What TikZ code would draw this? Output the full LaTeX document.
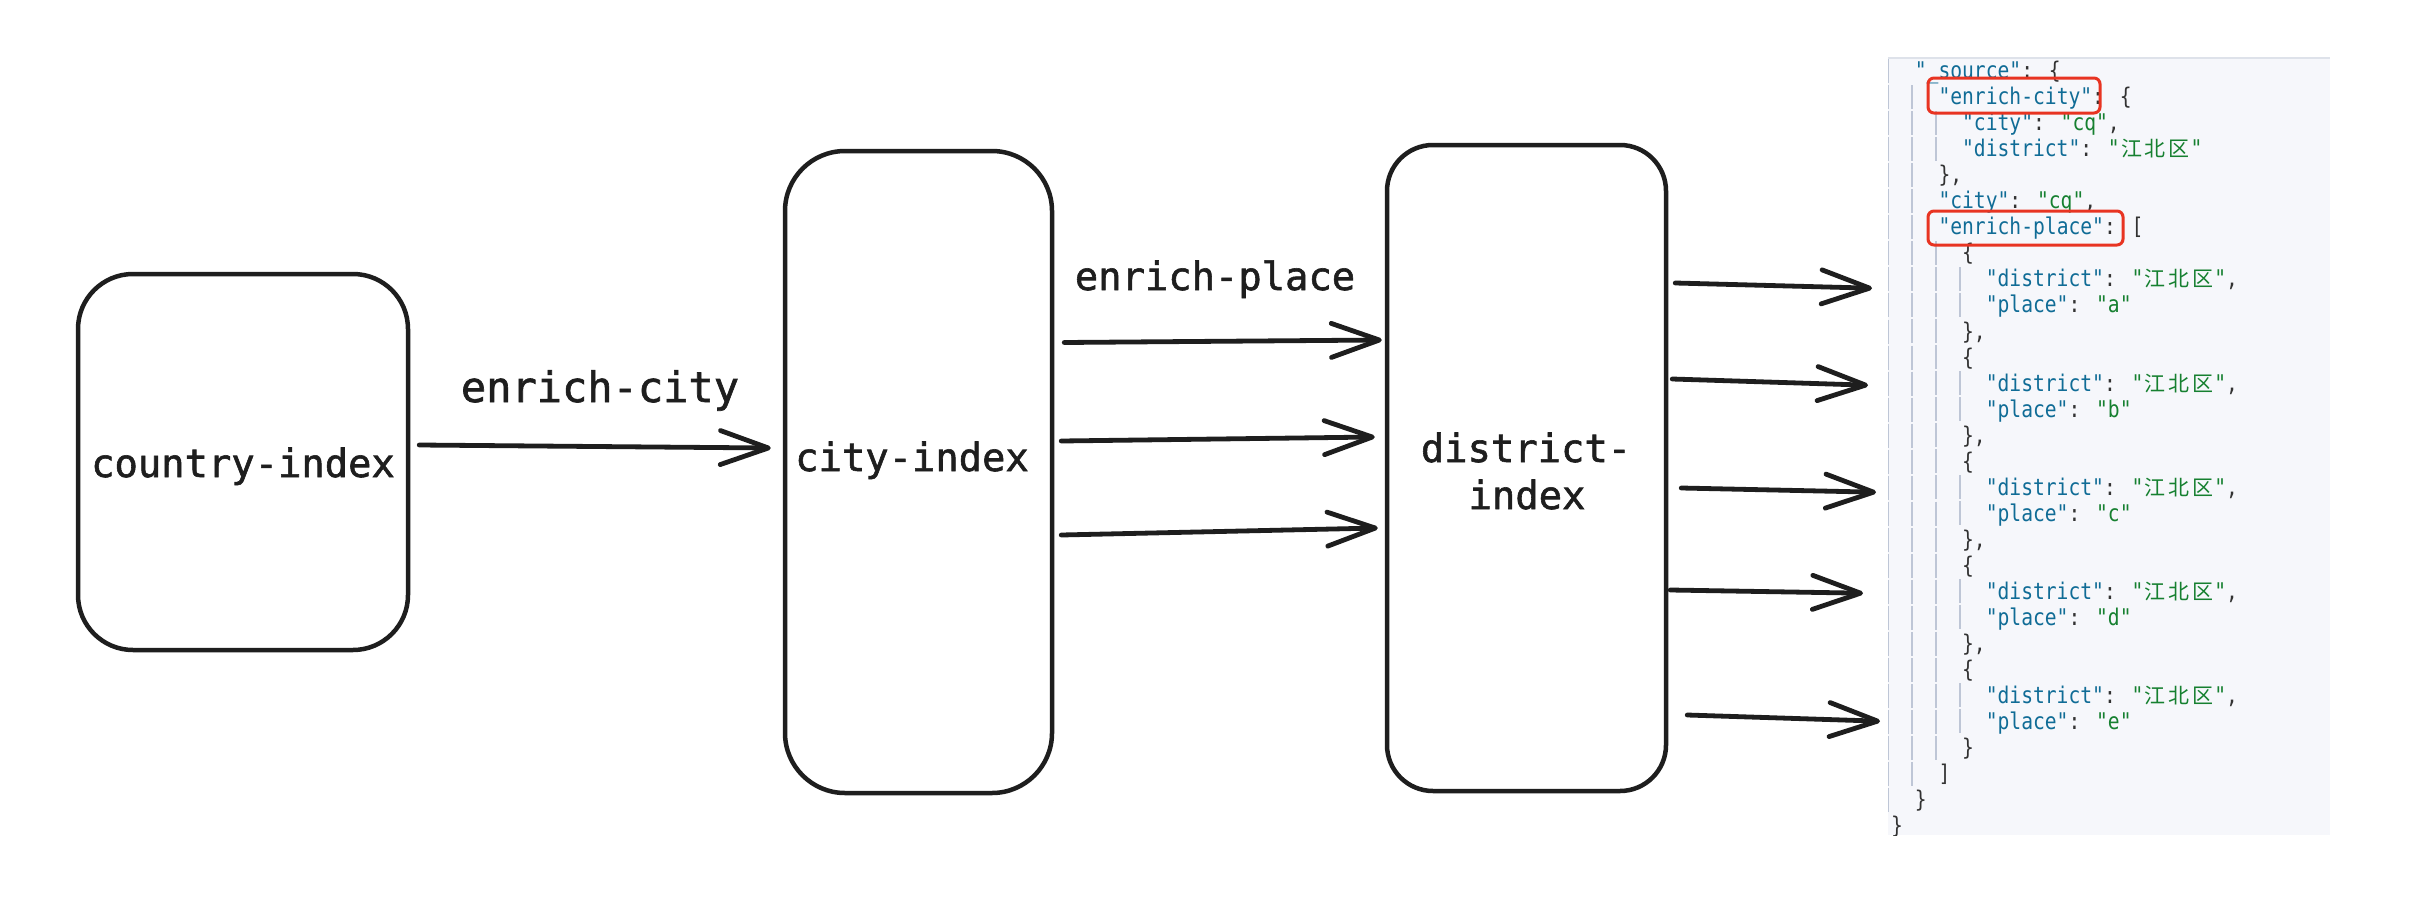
\documentclass[tikz,border=0pt]{standalone}
\usepackage{fontspec}
\usetikzlibrary{arrows.meta,calc}
\newfontfamily\handfont[FakeBold=1.5]{DejaVu Sans Mono}
\newfontfamily\codefont[FakeStretch=0.854]{DejaVu Sans Mono}
\newfontfamily\cjkfont{Noto Sans CJK SC}
\definecolor{ink}{RGB}{30,30,30}
\definecolor{jkey}{RGB}{16,108,150}
\definecolor{jval}{RGB}{22,128,48}
\definecolor{jpunct}{RGB}{50,50,50}
\definecolor{jbg}{RGB}{246,247,251}
\definecolor{jguide}{RGB}{190,198,214}
\definecolor{jtopline}{RGB}{222,226,234}
\definecolor{jred}{RGB}{232,52,34}
\newcommand\jk[1]{\textcolor{jkey}{"#1"}}
\newcommand\jv[1]{\textcolor{jval}{"#1"}}
\newcommand\jc[1]{\makebox[23.64pt]{\cjkfont\fontsize{21pt}{26pt}\selectfont #1}}
\newcommand\jcjk{\textcolor{jval}{"\jc{江}\jc{北}\jc{区}"}}
\newcommand\jl[4]{\node[code] (#1) at ({1891+23.64*#2},{78.5+26.05*#3}) {#4};}
\tikzset{
  idxbox/.style={draw=ink, line width=4.5pt, rounded corners=#1, inner sep=0pt},
  lbl/.style={font=\handfont\fontsize{38.8pt}{47pt}\selectfont, text=ink, anchor=base, inner sep=0pt},
  arr/.style={draw=ink, line width=4.8pt, line cap=round, -{Straight Barb[length=48pt,width=34pt,round]}},
  code/.style={font=\codefont\fontsize{23pt}{26pt}\selectfont, text=jpunct, anchor=base west, inner sep=0pt},
  guide/.style={draw=jguide, line width=1.4pt, dash pattern=on 24pt off 2.05pt},
  redbox/.style={draw=jred, line width=3pt, rounded corners=6pt},
}
\begin{document}
\begin{tikzpicture}[x=1pt,y=-1pt]
\fill[white] (0,0) rectangle (2414,910);
\useasboundingbox (0,0) rectangle (2414,910);

% index boxes
\node[idxbox=55pt, minimum width=330pt, minimum height=376pt] (country) at (243,462) {};
\node[idxbox=60pt, minimum width=267pt, minimum height=642pt] (city) at (918.5,472) {};
\node[idxbox=46pt, minimum width=279pt, minimum height=646pt] (district) at (1526.5,468) {};

\node[lbl] (countrylbl) at (243,477) {country-index};
\node[lbl] (citylbl) at (912,471) {city-index};
\node[lbl] (districtlbl) at (1526,462) {district-};
\node[lbl] (districtlbl2) at (1527,509) {index};
\node[lbl, font=\handfont\fontsize{42pt}{50pt}\selectfont] (ecity) at (600,402) {enrich-city};
\node[lbl] (eplace) at (1215,290) {enrich-place};

% JSON panel
\node[fill=jbg, minimum width=442pt, minimum height=777pt, inner sep=0pt, anchor=north west] (json) at (1888,58) {};
\draw[jtopline, line width=1.5pt] (json.north west) -- (json.north east);

\begin{scope}
\clip (json.north west) rectangle (json.south east);
\draw[guide] (1888,59) -- (1888,813);
\draw[guide] (1912,85) -- (1912,787);
\draw[guide] (1936,111) -- (1936,163);
\draw[guide] (1936,241) -- (1936,761);
\foreach \k in {0,...,4} {
  \draw[guide] (1960,{267+104*\k}) -- (1960,{319+104*\k});
}
\jl{j0}{1}{0}{\jk{\_source}: \{}
\jl{j1}{2}{1}{\jk{enrich-city}: \{}
\jl{j2}{3}{2}{\jk{city}: \jv{cq},}
\jl{j3}{3}{3}{\jk{district}: \jcjk}
\jl{j4}{2}{4}{\},}
\jl{j5}{2}{5}{\jk{city}: \jv{cq},}
\jl{j6}{2}{6}{\jk{enrich-place}: [}
\jl{j7}{3}{7}{\{}
\jl{j8}{4}{8}{\jk{district}: \jcjk,}
\jl{j9}{4}{9}{\jk{place}: \jv{a}}
\jl{j10}{3}{10}{\},}
\jl{j11}{3}{11}{\{}
\jl{j12}{4}{12}{\jk{district}: \jcjk,}
\jl{j13}{4}{13}{\jk{place}: \jv{b}}
\jl{j14}{3}{14}{\},}
\jl{j15}{3}{15}{\{}
\jl{j16}{4}{16}{\jk{district}: \jcjk,}
\jl{j17}{4}{17}{\jk{place}: \jv{c}}
\jl{j18}{3}{18}{\},}
\jl{j19}{3}{19}{\{}
\jl{j20}{4}{20}{\jk{district}: \jcjk,}
\jl{j21}{4}{21}{\jk{place}: \jv{d}}
\jl{j22}{3}{22}{\},}
\jl{j23}{3}{23}{\{}
\jl{j24}{4}{24}{\jk{district}: \jcjk,}
\jl{j25}{4}{25}{\jk{place}: \jv{e}}
\jl{j26}{3}{26}{\}}
\jl{j27}{2}{27}{]}
\jl{j28}{1}{28}{\}}
\jl{j29}{0}{29}{\}}
\end{scope}

\draw[redbox] (1928,78) rectangle (2100,113);
\draw[redbox] (1928,211) rectangle (2123,245);

% connectors
\draw[arr] ($(country.east)+(9,-17)$) -- ($(city.west)+(-12,-24)$);

\draw[arr] ($(city.east)+(10,-129.5)$) -- ($(district.west)+(-3,-128)$);
\draw[arr] ($(city.east)+(7,-31)$) -- ($(district.west)+(-10,-31)$);
\draw[arr] ($(city.east)+(7,63)$) -- ($(district.west)+(-7,60)$);

\draw[arr] ($(district.east)+(7,-185)$) -- ($(json.west)+(-16,-158.5)$);
\draw[arr] ($(district.east)+(4,-89)$) -- ($(json.west)+(-20,-61.5)$);
\draw[arr] ($(district.east)+(13,20)$) -- ($(json.west)+(-12,45.5)$);
\draw[arr] ($(district.east)+(2,122)$) -- ($(json.west)+(-25,146.5)$);
\draw[arr] ($(district.east)+(19,247)$) -- ($(json.west)+(-8,274.5)$);
\end{tikzpicture}
\end{document}
